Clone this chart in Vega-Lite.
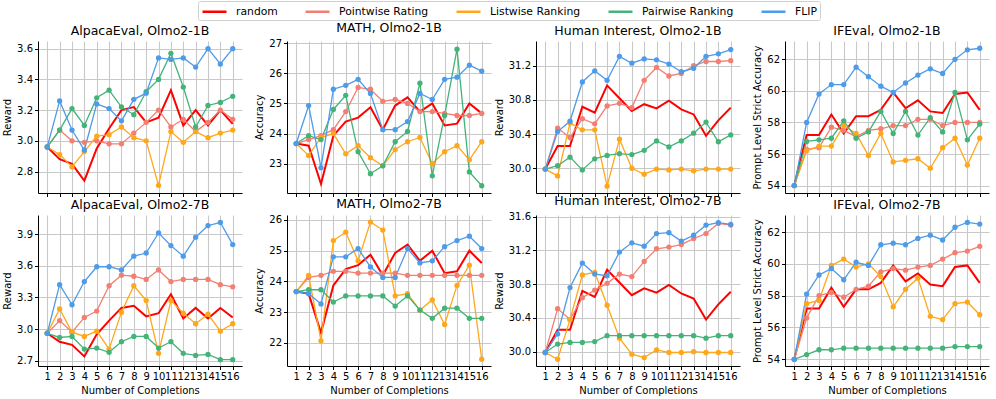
{
"$schema": "https://vega.github.io/schema/vega-lite/v6.json",
"padding": {"left": 2, "top": 0, "right": 5, "bottom": 5},
"bounds": "flush",
"columns": 4,
"spacing": {"row": 22, "column": 45},
"data": {"values": [
{"p":"A1","n":1,"r":2.96,"pw":2.96,"lw":2.96,"pr":2.96,"f":2.96},
{"p":"A1","n":2,"r":2.88,"pw":3.07,"lw":2.91,"pr":3.07,"f":3.26},
{"p":"A1","n":3,"r":2.85,"pw":3.00,"lw":2.83,"pr":3.21,"f":3.07},
{"p":"A1","n":4,"r":2.74,"pw":2.99,"lw":2.93,"pr":3.10,"f":2.94},
{"p":"A1","n":5,"r":2.95,"pw":3.00,"lw":3.03,"pr":3.28,"f":3.24},
{"p":"A1","n":6,"r":3.08,"pw":2.98,"lw":3.04,"pr":3.33,"f":3.21},
{"p":"A1","n":7,"r":3.20,"pw":2.98,"lw":3.09,"pr":3.22,"f":3.13},
{"p":"A1","n":8,"r":3.22,"pw":3.05,"lw":3.02,"pr":3.17,"f":3.27},
{"p":"A1","n":9,"r":3.12,"pw":3.12,"lw":3.00,"pr":3.32,"f":3.31},
{"p":"A1","n":10,"r":3.15,"pw":3.20,"lw":2.71,"pr":3.40,"f":3.54},
{"p":"A1","n":11,"r":3.33,"pw":3.09,"lw":3.06,"pr":3.57,"f":3.53},
{"p":"A1","n":12,"r":3.10,"pw":3.14,"lw":2.99,"pr":3.35,"f":3.54},
{"p":"A1","n":13,"r":3.20,"pw":3.06,"lw":3.06,"pr":3.09,"f":3.48},
{"p":"A1","n":14,"r":3.10,"pw":3.12,"lw":3.02,"pr":3.23,"f":3.60},
{"p":"A1","n":15,"r":3.20,"pw":3.20,"lw":3.05,"pr":3.25,"f":3.50},
{"p":"A1","n":16,"r":3.11,"pw":3.14,"lw":3.07,"pr":3.29,"f":3.60},
{"p":"M1","n":1,"r":23.67,"pw":23.67,"lw":23.67,"pr":23.67,"f":23.67},
{"p":"M1","n":2,"r":23.6,"pw":23.8,"lw":23.27,"pr":23.93,"f":24.93},
{"p":"M1","n":3,"r":22.33,"pw":23.93,"lw":23.87,"pr":23.8,"f":22.87},
{"p":"M1","n":4,"r":23.93,"pw":24.13,"lw":24.0,"pr":24.8,"f":25.47},
{"p":"M1","n":5,"r":24.4,"pw":24.73,"lw":23.33,"pr":25.27,"f":25.6},
{"p":"M1","n":6,"r":24.53,"pw":25.53,"lw":23.6,"pr":23.4,"f":25.8},
{"p":"M1","n":7,"r":24.87,"pw":25.47,"lw":23.2,"pr":22.67,"f":25.33},
{"p":"M1","n":8,"r":24.13,"pw":25.07,"lw":22.93,"pr":22.93,"f":24.13},
{"p":"M1","n":9,"r":24.93,"pw":25.13,"lw":23.47,"pr":23.73,"f":24.13},
{"p":"M1","n":10,"r":25.2,"pw":25.0,"lw":23.73,"pr":24.07,"f":24.4},
{"p":"M1","n":11,"r":24.73,"pw":24.73,"lw":23.87,"pr":25.67,"f":25.33},
{"p":"M1","n":12,"r":25.0,"pw":24.73,"lw":23.0,"pr":22.6,"f":25.13},
{"p":"M1","n":13,"r":24.27,"pw":24.67,"lw":23.4,"pr":24.6,"f":25.8},
{"p":"M1","n":14,"r":24.33,"pw":24.6,"lw":23.6,"pr":26.8,"f":25.87},
{"p":"M1","n":15,"r":25.0,"pw":24.6,"lw":23.13,"pr":22.73,"f":26.27},
{"p":"M1","n":16,"r":24.67,"pw":24.67,"lw":23.73,"pr":22.27,"f":26.07},
{"p":"H1","n":1,"r":29.99,"pw":29.99,"lw":29.99,"pr":29.99,"f":29.99},
{"p":"H1","n":2,"r":30.26,"pw":30.47,"lw":29.91,"pr":30.03,"f":30.43},
{"p":"H1","n":3,"r":30.26,"pw":30.36,"lw":30.53,"pr":30.13,"f":30.55},
{"p":"H1","n":4,"r":30.72,"pw":30.58,"lw":30.45,"pr":29.98,"f":31.01},
{"p":"H1","n":5,"r":30.65,"pw":30.52,"lw":30.45,"pr":30.11,"f":31.14},
{"p":"H1","n":6,"r":30.97,"pw":30.73,"lw":29.79,"pr":30.15,"f":31.03},
{"p":"H1","n":7,"r":30.82,"pw":30.76,"lw":30.34,"pr":30.17,"f":31.31},
{"p":"H1","n":8,"r":30.67,"pw":30.71,"lw":30.00,"pr":30.16,"f":31.23},
{"p":"H1","n":9,"r":30.75,"pw":31.03,"lw":29.93,"pr":30.21,"f":31.28},
{"p":"H1","n":10,"r":30.70,"pw":31.18,"lw":29.99,"pr":30.32,"f":31.27},
{"p":"H1","n":11,"r":30.79,"pw":31.08,"lw":29.98,"pr":30.25,"f":31.22},
{"p":"H1","n":12,"r":30.69,"pw":31.11,"lw":29.99,"pr":30.32,"f":31.13},
{"p":"H1","n":13,"r":30.63,"pw":31.20,"lw":29.97,"pr":30.41,"f":31.17},
{"p":"H1","n":14,"r":30.38,"pw":31.25,"lw":29.99,"pr":30.54,"f":31.31},
{"p":"H1","n":15,"r":30.56,"pw":31.25,"lw":29.99,"pr":30.31,"f":31.34},
{"p":"H1","n":16,"r":30.71,"pw":31.26,"lw":29.99,"pr":30.39,"f":31.39},
{"p":"I1","n":1,"r":54.0,"pw":54.0,"lw":54.0,"pr":54.0,"f":54.0},
{"p":"I1","n":2,"r":57.2,"pw":56.3,"lw":56.2,"pr":56.8,"f":58.0},
{"p":"I1","n":3,"r":57.2,"pw":56.4,"lw":56.5,"pr":56.9,"f":59.8},
{"p":"I1","n":4,"r":58.5,"pw":57.7,"lw":56.5,"pr":57.0,"f":60.4},
{"p":"I1","n":5,"r":57.3,"pw":57.5,"lw":57.8,"pr":58.1,"f":60.4},
{"p":"I1","n":6,"r":58.4,"pw":57.1,"lw":57.3,"pr":57.0,"f":61.5},
{"p":"I1","n":7,"r":58.4,"pw":57.5,"lw":55.9,"pr":57.4,"f":60.9},
{"p":"I1","n":8,"r":58.8,"pw":57.6,"lw":57.3,"pr":58.7,"f":60.3},
{"p":"I1","n":9,"r":59.9,"pw":57.8,"lw":55.5,"pr":57.3,"f":59.9},
{"p":"I1","n":10,"r":58.9,"pw":57.8,"lw":55.6,"pr":58.7,"f":60.5},
{"p":"I1","n":11,"r":59.4,"pw":58.2,"lw":55.7,"pr":57.2,"f":61.0},
{"p":"I1","n":12,"r":58.7,"pw":58.2,"lw":55.1,"pr":58.3,"f":61.4},
{"p":"I1","n":13,"r":58.6,"pw":57.8,"lw":56.4,"pr":57.4,"f":61.1},
{"p":"I1","n":14,"r":59.8,"pw":58.0,"lw":57.0,"pr":59.9,"f":62.0},
{"p":"I1","n":15,"r":59.9,"pw":58.0,"lw":55.3,"pr":56.9,"f":62.6},
{"p":"I1","n":16,"r":58.8,"pw":58.0,"lw":57.0,"pr":57.9,"f":62.7},
{"p":"A7","n":1,"r":2.96,"pw":2.96,"lw":2.96,"pr":2.96,"f":2.96},
{"p":"A7","n":2,"r":2.88,"pw":3.08,"lw":3.19,"pr":2.92,"f":3.42},
{"p":"A7","n":3,"r":2.85,"pw":2.97,"lw":2.97,"pr":2.93,"f":3.23},
{"p":"A7","n":4,"r":2.74,"pw":3.11,"lw":2.93,"pr":2.81,"f":3.45},
{"p":"A7","n":5,"r":2.95,"pw":3.17,"lw":2.98,"pr":2.82,"f":3.59},
{"p":"A7","n":6,"r":3.08,"pw":3.41,"lw":2.81,"pr":2.78,"f":3.59},
{"p":"A7","n":7,"r":3.20,"pw":3.51,"lw":3.16,"pr":2.88,"f":3.56},
{"p":"A7","n":8,"r":3.22,"pw":3.50,"lw":3.41,"pr":2.93,"f":3.69},
{"p":"A7","n":9,"r":3.12,"pw":3.47,"lw":3.27,"pr":2.93,"f":3.72},
{"p":"A7","n":10,"r":3.15,"pw":3.56,"lw":2.77,"pr":2.82,"f":3.91},
{"p":"A7","n":11,"r":3.33,"pw":3.45,"lw":3.27,"pr":2.88,"f":3.79},
{"p":"A7","n":12,"r":3.10,"pw":3.47,"lw":3.15,"pr":2.77,"f":3.69},
{"p":"A7","n":13,"r":3.20,"pw":3.47,"lw":3.05,"pr":2.75,"f":3.87},
{"p":"A7","n":14,"r":3.10,"pw":3.47,"lw":3.14,"pr":2.76,"f":3.98},
{"p":"A7","n":15,"r":3.20,"pw":3.42,"lw":2.98,"pr":2.71,"f":4.01},
{"p":"A7","n":16,"r":3.11,"pw":3.40,"lw":3.05,"pr":2.71,"f":3.80},
{"p":"M7","n":1,"r":23.67,"pw":23.67,"lw":23.67,"pr":23.67,"f":23.67},
{"p":"M7","n":2,"r":23.6,"pw":24.13,"lw":24.2,"pr":23.73,"f":23.6},
{"p":"M7","n":3,"r":22.33,"pw":24.2,"lw":22.07,"pr":23.73,"f":23.27},
{"p":"M7","n":4,"r":23.87,"pw":24.33,"lw":25.33,"pr":23.33,"f":24.8},
{"p":"M7","n":5,"r":24.4,"pw":24.33,"lw":25.6,"pr":23.53,"f":24.8},
{"p":"M7","n":6,"r":24.53,"pw":24.27,"lw":24.67,"pr":23.53,"f":25.07},
{"p":"M7","n":7,"r":24.87,"pw":24.27,"lw":25.93,"pr":23.53,"f":24.47},
{"p":"M7","n":8,"r":24.2,"pw":24.27,"lw":25.67,"pr":23.53,"f":24.13},
{"p":"M7","n":9,"r":24.93,"pw":24.27,"lw":23.53,"pr":23.2,"f":24.13},
{"p":"M7","n":10,"r":25.2,"pw":24.2,"lw":23.6,"pr":23.53,"f":25.07},
{"p":"M7","n":11,"r":24.67,"pw":24.2,"lw":23.07,"pr":23.07,"f":24.6},
{"p":"M7","n":12,"r":25.0,"pw":24.2,"lw":23.4,"pr":22.8,"f":24.67},
{"p":"M7","n":13,"r":24.27,"pw":24.2,"lw":22.6,"pr":23.13,"f":25.13},
{"p":"M7","n":14,"r":24.33,"pw":24.2,"lw":23.87,"pr":23.13,"f":25.33},
{"p":"M7","n":15,"r":25.0,"pw":24.2,"lw":24.53,"pr":22.8,"f":25.47},
{"p":"M7","n":16,"r":24.6,"pw":24.2,"lw":21.47,"pr":22.8,"f":25.07},
{"p":"H7","n":1,"r":29.99,"pw":29.99,"lw":29.99,"pr":29.99,"f":29.99},
{"p":"H7","n":2,"r":30.26,"pw":30.51,"lw":29.91,"pr":30.09,"f":30.21},
{"p":"H7","n":3,"r":30.26,"pw":30.38,"lw":30.38,"pr":30.11,"f":30.76},
{"p":"H7","n":4,"r":30.72,"pw":30.64,"lw":30.91,"pr":30.11,"f":31.05},
{"p":"H7","n":5,"r":30.65,"pw":30.73,"lw":30.94,"pr":30.12,"f":30.92},
{"p":"H7","n":6,"r":30.97,"pw":30.81,"lw":30.55,"pr":30.19,"f":30.90},
{"p":"H7","n":7,"r":30.82,"pw":30.92,"lw":30.16,"pr":30.19,"f":31.18},
{"p":"H7","n":8,"r":30.67,"pw":30.89,"lw":29.97,"pr":30.19,"f":31.29},
{"p":"H7","n":9,"r":30.75,"pw":31.07,"lw":29.93,"pr":30.19,"f":31.25},
{"p":"H7","n":10,"r":30.70,"pw":31.22,"lw":30.02,"pr":30.19,"f":31.40},
{"p":"H7","n":11,"r":30.79,"pw":31.24,"lw":29.99,"pr":30.19,"f":31.41},
{"p":"H7","n":12,"r":30.69,"pw":31.27,"lw":29.99,"pr":30.19,"f":31.31},
{"p":"H7","n":13,"r":30.63,"pw":31.34,"lw":30.00,"pr":30.19,"f":31.38},
{"p":"H7","n":14,"r":30.38,"pw":31.40,"lw":29.99,"pr":30.16,"f":31.50},
{"p":"H7","n":15,"r":30.56,"pw":31.52,"lw":29.99,"pr":30.19,"f":31.53},
{"p":"H7","n":16,"r":30.71,"pw":31.50,"lw":29.99,"pr":30.19,"f":31.51},
{"p":"I7","n":1,"r":54.0,"pw":54.0,"lw":54.0,"pr":54.0,"f":54.0},
{"p":"I7","n":2,"r":57.2,"pw":56.6,"lw":57.5,"pr":54.3,"f":58.1},
{"p":"I7","n":3,"r":57.2,"pw":58.0,"lw":57.7,"pr":54.6,"f":59.3},
{"p":"I7","n":4,"r":58.5,"pw":58.2,"lw":59.9,"pr":54.6,"f":59.7},
{"p":"I7","n":5,"r":57.3,"pw":57.9,"lw":60.3,"pr":54.7,"f":59.0},
{"p":"I7","n":6,"r":58.4,"pw":58.4,"lw":59.8,"pr":54.7,"f":60.1},
{"p":"I7","n":7,"r":58.4,"pw":58.6,"lw":60.0,"pr":54.7,"f":59.9},
{"p":"I7","n":8,"r":58.8,"pw":59.5,"lw":59.2,"pr":54.7,"f":61.2},
{"p":"I7","n":9,"r":59.9,"pw":59.7,"lw":57.3,"pr":54.7,"f":61.3},
{"p":"I7","n":10,"r":58.9,"pw":59.6,"lw":58.4,"pr":54.7,"f":61.2},
{"p":"I7","n":11,"r":59.4,"pw":59.8,"lw":59.1,"pr":54.7,"f":61.6},
{"p":"I7","n":12,"r":58.7,"pw":59.9,"lw":56.7,"pr":54.7,"f":61.8},
{"p":"I7","n":13,"r":58.6,"pw":60.3,"lw":56.5,"pr":54.7,"f":61.5},
{"p":"I7","n":14,"r":59.8,"pw":60.7,"lw":57.5,"pr":54.8,"f":62.3},
{"p":"I7","n":15,"r":59.9,"pw":60.8,"lw":57.6,"pr":54.8,"f":62.6},
{"p":"I7","n":16,"r":58.8,"pw":61.1,"lw":56.8,"pr":54.8,"f":62.5}
]},
"transform": [{"fold": ["r","pw","lw","pr","f"], "as": ["s","v"]}],
"config": {
  "font": "DejaVu Sans",
  "view": {"stroke": null},
  "axis": {"domainColor": "#000", "domainWidth": 1, "tickColor": "#000", "tickSize": 3.5, "labelFontSize": 10, "labelColor": "#000", "titleFontSize": 10, "titleFontWeight": "normal", "titleColor": "#000", "gridColor": "#c8c8c8", "gridWidth": 1.1, "labelPadding": 2, "titlePadding": 4},
  "title": {"fontSize": 12.5, "fontWeight": "normal", "offset": 4, "color": "#000"},
  "legend": {"orient": "none", "legendX": 160, "legendY": -40, "direction": "horizontal", "symbolType": "M-1,0H3", "symbolSize": 144, "symbolStrokeWidth": 2.5, "labelFontSize": 10.8, "labelColor": "#000", "labelOffset": 20, "columnPadding": 22, "strokeColor": "#d0d0d0", "cornerRadius": 2, "padding": 3, "fillColor": "#ffffff", "title": null}
},
"concat": [
{"title": "AlpacaEval, Olmo2-1B", "width": 204, "height": 152,
 "transform": [{"filter": "datum.p == 'A1'"}],
 "encoding": {
  "x": {"field": "n", "type": "quantitative", "scale": {"domain": [0.25, 16.75], "nice": false, "zero": false}, "axis": {"values": [1,2,3,4,5,6,7,8,9,10,11,12,13,14,15,16], "labels": false, "title": null}},
  "y": {"field": "v", "type": "quantitative", "scale": {"domain": [2.66, 3.65], "nice": false, "zero": false}, "axis": {"values": [2.8,3.0,3.2,3.4,3.6], "format": ".1f", "title": "Reward"}},
  "color": {"field": "s", "type": "nominal", "scale": {"domain": ["r","pw","lw","pr","f"], "range": ["#ff0000","#f37f72","#ffa71a","#43b378","#4d9be9"]}, "legend": {"labelExpr": "{'r':'random','pw':'Pointwise Rating','lw':'Listwise Ranking','pr':'Pairwise Ranking','f':'FLIP'}[datum.label]"}}
 },
 "layer": [
  {"transform": [{"filter": "datum.s == 'r'"}], "mark": {"type": "line", "strokeWidth": 2}},
  {"transform": [{"filter": "datum.s != 'r'"}], "mark": {"type": "line", "strokeWidth": 1.3}},
  {"transform": [{"filter": "datum.s != 'r'"}], "mark": {"type": "point", "filled": true, "size": 28, "opacity": 1}}
 ]},
{"title": "MATH, Olmo2-1B", "width": 204, "height": 152,
 "transform": [{"filter": "datum.p == 'M1'"}],
 "encoding": {
  "x": {"field": "n", "type": "quantitative", "scale": {"domain": [0.25, 16.75], "nice": false, "zero": false}, "axis": {"values": [1,2,3,4,5,6,7,8,9,10,11,12,13,14,15,16], "labels": false, "title": null}},
  "y": {"field": "v", "type": "quantitative", "scale": {"domain": [22.03, 27.07], "nice": false, "zero": false}, "axis": {"values": [23,24,25,26,27], "format": "d", "title": "Accuracy"}},
  "color": {"field": "s", "type": "nominal", "scale": {"domain": ["r","pw","lw","pr","f"], "range": ["#ff0000","#f37f72","#ffa71a","#43b378","#4d9be9"]}, "legend": {"labelExpr": "{'r':'random','pw':'Pointwise Rating','lw':'Listwise Ranking','pr':'Pairwise Ranking','f':'FLIP'}[datum.label]"}}
 },
 "layer": [
  {"transform": [{"filter": "datum.s == 'r'"}], "mark": {"type": "line", "strokeWidth": 2}},
  {"transform": [{"filter": "datum.s != 'r'"}], "mark": {"type": "line", "strokeWidth": 1.3}},
  {"transform": [{"filter": "datum.s != 'r'"}], "mark": {"type": "point", "filled": true, "size": 28, "opacity": 1}}
 ]},
{"title": "Human Interest, Olmo2-1B", "width": 204, "height": 152,
 "transform": [{"filter": "datum.p == 'H1'"}],
 "encoding": {
  "x": {"field": "n", "type": "quantitative", "scale": {"domain": [0.25, 16.75], "nice": false, "zero": false}, "axis": {"values": [1,2,3,4,5,6,7,8,9,10,11,12,13,14,15,16], "labels": false, "title": null}},
  "y": {"field": "v", "type": "quantitative", "scale": {"domain": [29.71, 31.49], "nice": false, "zero": false}, "axis": {"values": [30.0,30.4,30.8,31.2], "format": ".1f", "title": "Reward"}},
  "color": {"field": "s", "type": "nominal", "scale": {"domain": ["r","pw","lw","pr","f"], "range": ["#ff0000","#f37f72","#ffa71a","#43b378","#4d9be9"]}, "legend": {"labelExpr": "{'r':'random','pw':'Pointwise Rating','lw':'Listwise Ranking','pr':'Pairwise Ranking','f':'FLIP'}[datum.label]"}}
 },
 "layer": [
  {"transform": [{"filter": "datum.s == 'r'"}], "mark": {"type": "line", "strokeWidth": 2}},
  {"transform": [{"filter": "datum.s != 'r'"}], "mark": {"type": "line", "strokeWidth": 1.3}},
  {"transform": [{"filter": "datum.s != 'r'"}], "mark": {"type": "point", "filled": true, "size": 28, "opacity": 1}}
 ]},
{"title": "IFEval, Olmo2-1B", "width": 204, "height": 152,
 "transform": [{"filter": "datum.p == 'I1'"}],
 "encoding": {
  "x": {"field": "n", "type": "quantitative", "scale": {"domain": [0.25, 16.75], "nice": false, "zero": false}, "axis": {"values": [1,2,3,4,5,6,7,8,9,10,11,12,13,14,15,16], "labels": false, "title": null}},
  "y": {"field": "v", "type": "quantitative", "scale": {"domain": [53.53, 63.16], "nice": false, "zero": false}, "axis": {"values": [54,56,58,60,62], "format": "d", "title": "Prompt Level Strict Accuracy"}},
  "color": {"field": "s", "type": "nominal", "scale": {"domain": ["r","pw","lw","pr","f"], "range": ["#ff0000","#f37f72","#ffa71a","#43b378","#4d9be9"]}, "legend": {"labelExpr": "{'r':'random','pw':'Pointwise Rating','lw':'Listwise Ranking','pr':'Pairwise Ranking','f':'FLIP'}[datum.label]"}}
 },
 "layer": [
  {"transform": [{"filter": "datum.s == 'r'"}], "mark": {"type": "line", "strokeWidth": 2}},
  {"transform": [{"filter": "datum.s != 'r'"}], "mark": {"type": "line", "strokeWidth": 1.3}},
  {"transform": [{"filter": "datum.s != 'r'"}], "mark": {"type": "point", "filled": true, "size": 28, "opacity": 1}}
 ]},
{"title": "AlpacaEval, Olmo2-7B", "width": 204, "height": 151,
 "transform": [{"filter": "datum.p == 'A7'"}],
 "encoding": {
  "x": {"field": "n", "type": "quantitative", "scale": {"domain": [0.25, 16.75], "nice": false, "zero": false}, "axis": {"values": [1,2,3,4,5,6,7,8,9,10,11,12,13,14,15,16], "format": "d", "labelOverlap": false, "labelFlush": false, "title": "Number of Completions"}},
  "y": {"field": "v", "type": "quantitative", "scale": {"domain": [2.65, 4.08], "nice": false, "zero": false}, "axis": {"values": [2.7,3.0,3.3,3.6,3.9], "format": ".1f", "title": "Reward"}},
  "color": {"field": "s", "type": "nominal", "scale": {"domain": ["r","pw","lw","pr","f"], "range": ["#ff0000","#f37f72","#ffa71a","#43b378","#4d9be9"]}, "legend": {"labelExpr": "{'r':'random','pw':'Pointwise Rating','lw':'Listwise Ranking','pr':'Pairwise Ranking','f':'FLIP'}[datum.label]"}}
 },
 "layer": [
  {"transform": [{"filter": "datum.s == 'r'"}], "mark": {"type": "line", "strokeWidth": 2}},
  {"transform": [{"filter": "datum.s != 'r'"}], "mark": {"type": "line", "strokeWidth": 1.3}},
  {"transform": [{"filter": "datum.s != 'r'"}], "mark": {"type": "point", "filled": true, "size": 28, "opacity": 1}}
 ]},
{"title": "MATH, Olmo2-7B", "width": 204, "height": 151,
 "transform": [{"filter": "datum.p == 'M7'"}],
 "encoding": {
  "x": {"field": "n", "type": "quantitative", "scale": {"domain": [0.25, 16.75], "nice": false, "zero": false}, "axis": {"values": [1,2,3,4,5,6,7,8,9,10,11,12,13,14,15,16], "format": "d", "labelOverlap": false, "labelFlush": false, "title": "Number of Completions"}},
  "y": {"field": "v", "type": "quantitative", "scale": {"domain": [21.25, 26.16], "nice": false, "zero": false}, "axis": {"values": [22,23,24,25,26], "format": "d", "title": "Accuracy"}},
  "color": {"field": "s", "type": "nominal", "scale": {"domain": ["r","pw","lw","pr","f"], "range": ["#ff0000","#f37f72","#ffa71a","#43b378","#4d9be9"]}, "legend": {"labelExpr": "{'r':'random','pw':'Pointwise Rating','lw':'Listwise Ranking','pr':'Pairwise Ranking','f':'FLIP'}[datum.label]"}}
 },
 "layer": [
  {"transform": [{"filter": "datum.s == 'r'"}], "mark": {"type": "line", "strokeWidth": 2}},
  {"transform": [{"filter": "datum.s != 'r'"}], "mark": {"type": "line", "strokeWidth": 1.3}},
  {"transform": [{"filter": "datum.s != 'r'"}], "mark": {"type": "point", "filled": true, "size": 28, "opacity": 1}}
 ]},
{"title": "Human Interest, Olmo2-7B", "width": 204, "height": 151,
 "transform": [{"filter": "datum.p == 'H7'"}],
 "encoding": {
  "x": {"field": "n", "type": "quantitative", "scale": {"domain": [0.25, 16.75], "nice": false, "zero": false}, "axis": {"values": [1,2,3,4,5,6,7,8,9,10,11,12,13,14,15,16], "format": "d", "labelOverlap": false, "labelFlush": false, "title": "Number of Completions"}},
  "y": {"field": "v", "type": "quantitative", "scale": {"domain": [29.83, 31.62], "nice": false, "zero": false}, "axis": {"values": [30.0,30.4,30.8,31.2,31.6], "format": ".1f", "title": "Reward"}},
  "color": {"field": "s", "type": "nominal", "scale": {"domain": ["r","pw","lw","pr","f"], "range": ["#ff0000","#f37f72","#ffa71a","#43b378","#4d9be9"]}, "legend": {"labelExpr": "{'r':'random','pw':'Pointwise Rating','lw':'Listwise Ranking','pr':'Pairwise Ranking','f':'FLIP'}[datum.label]"}}
 },
 "layer": [
  {"transform": [{"filter": "datum.s == 'r'"}], "mark": {"type": "line", "strokeWidth": 2}},
  {"transform": [{"filter": "datum.s != 'r'"}], "mark": {"type": "line", "strokeWidth": 1.3}},
  {"transform": [{"filter": "datum.s != 'r'"}], "mark": {"type": "point", "filled": true, "size": 28, "opacity": 1}}
 ]},
{"title": "IFEval, Olmo2-7B", "width": 204, "height": 151,
 "transform": [{"filter": "datum.p == 'I7'"}],
 "encoding": {
  "x": {"field": "n", "type": "quantitative", "scale": {"domain": [0.25, 16.75], "nice": false, "zero": false}, "axis": {"values": [1,2,3,4,5,6,7,8,9,10,11,12,13,14,15,16], "format": "d", "labelOverlap": false, "labelFlush": false, "title": "Number of Completions"}},
  "y": {"field": "v", "type": "quantitative", "scale": {"domain": [53.58, 63.07], "nice": false, "zero": false}, "axis": {"values": [54,56,58,60,62], "format": "d", "title": "Prompt Level Strict Accuracy"}},
  "color": {"field": "s", "type": "nominal", "scale": {"domain": ["r","pw","lw","pr","f"], "range": ["#ff0000","#f37f72","#ffa71a","#43b378","#4d9be9"]}, "legend": {"labelExpr": "{'r':'random','pw':'Pointwise Rating','lw':'Listwise Ranking','pr':'Pairwise Ranking','f':'FLIP'}[datum.label]"}}
 },
 "layer": [
  {"transform": [{"filter": "datum.s == 'r'"}], "mark": {"type": "line", "strokeWidth": 2}},
  {"transform": [{"filter": "datum.s != 'r'"}], "mark": {"type": "line", "strokeWidth": 1.3}},
  {"transform": [{"filter": "datum.s != 'r'"}], "mark": {"type": "point", "filled": true, "size": 28, "opacity": 1}}
 ]}
]
}
